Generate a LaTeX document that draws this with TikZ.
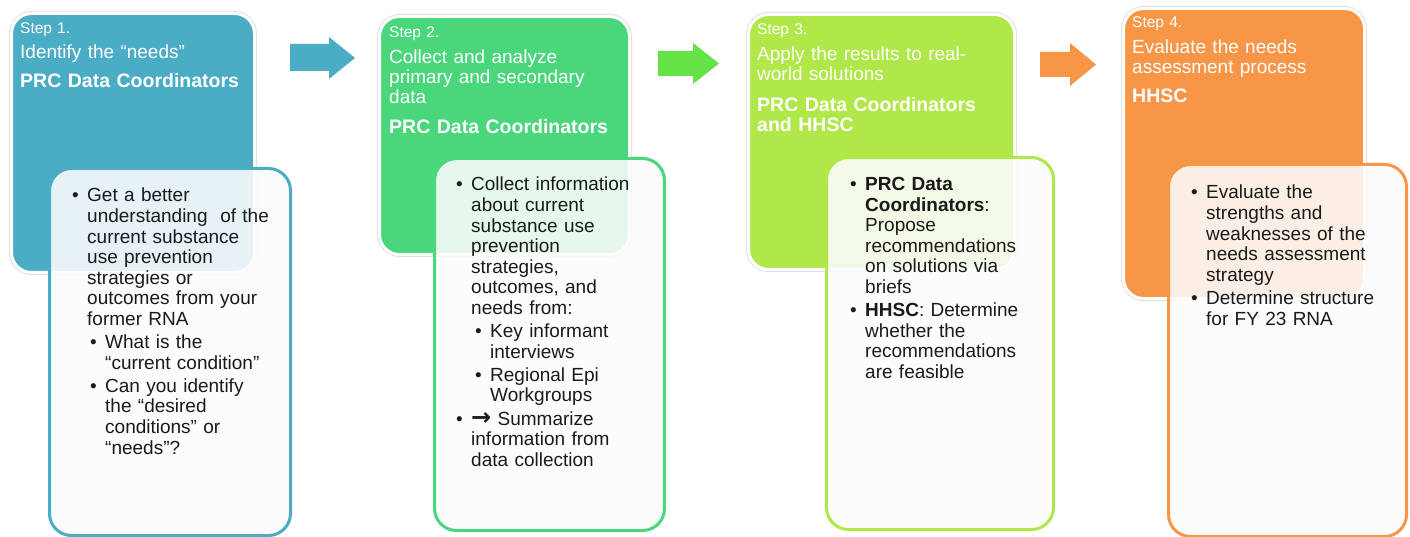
\documentclass[tikz,border=0pt]{standalone}
\usepackage{fontspec}
\setmainfont{Liberation Sans}
\newfontfamily\arrowfont{DejaVu Sans}
\usetikzlibrary{positioning}
\definecolor{stepteal}{RGB}{75,172,198}
\definecolor{stepgreen}{RGB}{74,214,122}
\definecolor{steplime}{RGB}{176,232,74}
\definecolor{steporange}{RGB}{247,150,70}
\definecolor{arrowgreen}{RGB}{100,226,72}
\definecolor{bodyblack}{RGB}{26,26,26}

% bullet paragraph: #1 = indent of the text, bullet hangs 15pt to its left
\newcommand{\pitem}[2]{\hangindent=#1\hangafter=0\noindent\llap{\makebox[15pt][l]{\textbullet}}#2\par}

\begin{document}
\begin{tikzpicture}[x=1pt,y=-1pt,
  stepbox/.style={rounded corners=20pt,inner sep=0,anchor=north west,
    preaction={draw=black!12,line width=5pt},draw=white,line width=3pt},
  notebox/.style={rounded corners=22pt,inner sep=0,anchor=north west,
    fill=black!1,fill opacity=0.88,line width=3pt},
  steplabel/.style={anchor=north west,inner sep=0,text=white,align=left,
    text width=250,font=\fontsize{15.5}{18}\selectfont},
  steptitle/.style={anchor=north west,inner sep=0,text=white,align=left,
    text width=250,font=\fontsize{19}{20}\selectfont},
  stepwho/.style={anchor=north west,inner sep=0,text=white,align=left,
    text width=250,font=\fontsize{19.5}{20}\selectfont\bfseries},
  notetext/.style={anchor=north west,inner sep=0,text=bodyblack,align=left,
    text width=230,font=\fontsize{19}{20.6}\selectfont\setlength{\parskip}{2.5pt}},
 ]
\fill[white] (0,0) rectangle (1410,537);
\useasboundingbox (0,0) rectangle (1410,537);

% coloured step panels
\node[stepbox,fill=stepteal,minimum width=243,minimum height=259] (step1) at (10,12) {};
\node[stepbox,fill=stepgreen,minimum width=250,minimum height=238] (step2) at (378,15) {};
\node[stepbox,fill=steplime,minimum width=266,minimum height=255] (step3) at (747,13) {};
\node[stepbox,fill=steporange,minimum width=241,minimum height=290] (step4) at (1122,7) {};

% block arrows between the steps
\fill[stepteal] (290,44) -- (329,44) -- (329,37) -- (355,58) -- (329,79) -- (329,71) -- (290,71) -- cycle;
\fill[arrowgreen] (658,51) -- (693,51) -- (693,43) -- (719,63.5) -- (693,84) -- (693,76) -- (658,76) -- cycle;
\fill[steporange] (1040,52) -- (1070,52) -- (1070,43) -- (1096,64.5) -- (1070,86) -- (1070,77) -- (1040,77) -- cycle;

% headers
\node[steplabel] (lab1) at (20,22) {Step 1.};
\node[steptitle] (tit1) at (20,45) {Identify the “needs”};
\node[stepwho] (who1) at (20,73) {PRC Data Coordinators};

\node[steplabel] (lab2) at (389,26) {Step 2.};
\node[steptitle] (tit2) at (389,50) {Collect and analyze\\primary and secondary\\data};
\node[stepwho] (who2) at (389,119) {PRC Data Coordinators};

\node[steplabel] (lab3) at (757,23) {Step 3.};
\node[steptitle] (tit3) at (757,47) {Apply the results to real-\\world solutions};
\node[stepwho] (who3) at (757,97) {PRC Data Coordinators\\and HHSC};

\node[steplabel] (lab4) at (1132,16) {Step 4.};
\node[steptitle] (tit4) at (1132,40) {Evaluate the needs\\assessment process};
\node[stepwho] (who4) at (1132,89) {HHSC};

% white detail panels over the steps
\node[notebox,draw=stepteal,minimum width=241,minimum height=367] (note1) at (48,167) {};
\node[notebox,draw=stepgreen,minimum width=230,minimum height=372] (note2) at (433,157) {};
\node[notebox,draw=steplime,minimum width=227,minimum height=372] (note3) at (825,156) {};
\node[notebox,draw=steporange,minimum width=238,minimum height=372] (note4) at (1167,163) {};

\node[notetext] (txt1) at (72,188) {%
  \pitem{15pt}{Get a better\newline understanding\ \ of the\newline current substance\newline use prevention\newline strategies or\newline outcomes from your\newline former RNA}
  \pitem{33pt}{What is the\newline “current condition”}
  \pitem{33pt}{Can you identify\newline the “desired\newline conditions” or\newline “needs”?}};

\node[notetext] (txt2) at (456,177) {%
  \pitem{15pt}{Collect information\newline about current\newline substance use\newline prevention\newline strategies,\newline outcomes, and\newline needs from:}
  \pitem{34pt}{Key informant\newline interviews}
  \pitem{34pt}{Regional Epi\newline Workgroups}
  \pitem{15pt}{{\arrowfont\bfseries\fontsize{24}{20}\selectfont →} Summarize\newline information from\newline data collection}};

\node[notetext] (txt3) at (851,177) {%
  \pitem{14pt}{\textbf{PRC Data\newline Coordinators}:\newline Propose\newline recommendations\newline on solutions via\newline briefs}
  \pitem{14pt}{\textbf{HHSC}: Determine\newline whether the\newline recommendations\newline are feasible}};

\node[notetext] (txt4) at (1190,185) {%
  \pitem{16pt}{Evaluate the\newline strengths and\newline weaknesses of the\newline needs assessment\newline strategy}
  \pitem{16pt}{Determine structure\newline for FY 23 RNA}};

\end{tikzpicture}
\end{document}
